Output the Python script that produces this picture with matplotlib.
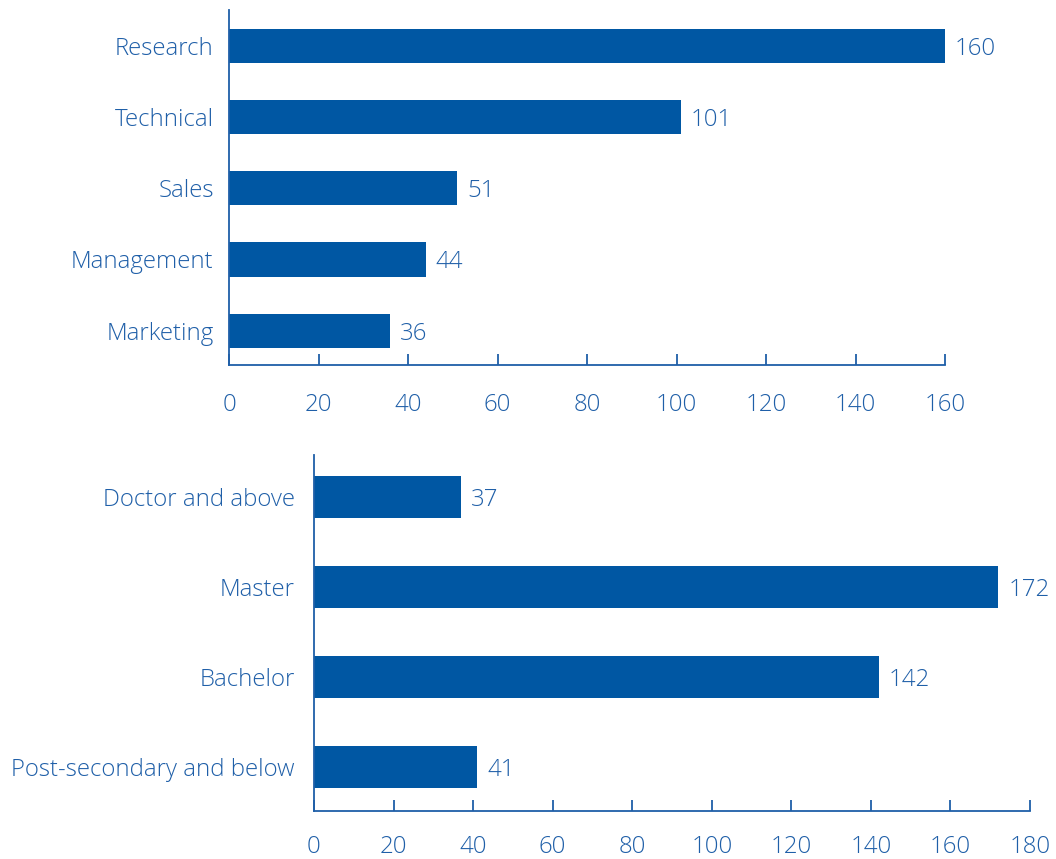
import matplotlib
matplotlib.use("Agg")
import matplotlib.pyplot as plt

plt.rcParams['font.family'] = ['Open Sans', 'DejaVu Sans']
plt.rcParams['font.weight'] = 300

func_labels = ["Research", "Technical", "Sales", "Management", "Marketing"]
func_values = [160, 101, 51, 44, 36]
func_ticks = [0, 20, 40, 60, 80, 100, 120, 140, 160]

edu_labels = ["Doctor and above", "Master", "Bachelor", "Post-secondary and below"]
edu_values = [37, 172, 142, 41]
edu_ticks = [0, 20, 40, 60, 80, 100, 120, 140, 160, 180]

BAR = '#0057A3'
TXT = '#1F5FA8'
FS = 17.3

fig = plt.figure(figsize=(10.56, 8.59), dpi=100)
ax1 = fig.add_axes([229/1056, 1-365/859, 716/1056, 355/859])
ax2 = fig.add_axes([314/1056, 1-811/859, 716/1056, 356/859])

def draw(ax, labels, values, ticks, xmax, height, ylim, ypad, xpad):
    n = len(labels)
    ys = list(range(n))[::-1]
    ax.barh(ys, values, height=height, color=BAR)
    for y, v in zip(ys, values):
        ax.text(v + xmax*0.014, y, str(v), va='center_baseline', ha='left', color=TXT, fontsize=FS)
    ax.set_yticks(ys)
    ax.set_yticklabels(labels)
    ax.set_xticks(ticks)
    ax.set_xlim(0, xmax)
    ax.set_ylim(*ylim)
    for s in ['top', 'right']:
        ax.spines[s].set_visible(False)
    for s in ['left', 'bottom']:
        ax.spines[s].set_color(TXT)
        ax.spines[s].set_linewidth(1.3)
    ax.tick_params(axis='x', direction='in', length=8, width=1.3, color=TXT,
                   labelcolor=TXT, labelsize=FS, pad=xpad)
    ax.tick_params(axis='y', length=0, labelcolor=TXT, labelsize=FS, pad=ypad)
    ax.set_facecolor('none')

draw(ax1, func_labels, func_values, func_ticks, 160, 0.48, (-0.48, 4.5), 11, 20)
draw(ax2, edu_labels, edu_values, edu_ticks, 180, 0.47, (-0.49, 3.47), 14, 17)

fig.savefig("out.png", dpi=100)
